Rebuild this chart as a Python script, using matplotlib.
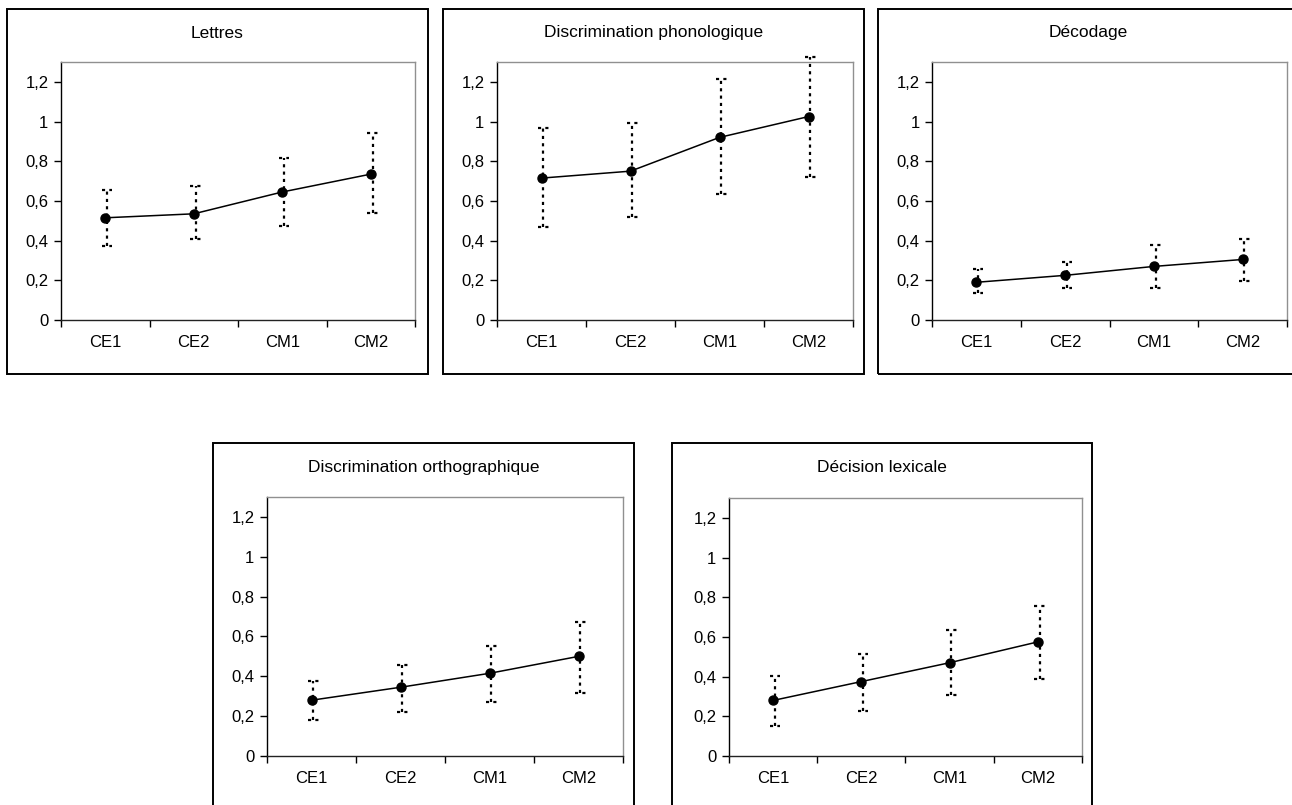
import numpy as np
import matplotlib
matplotlib.use('Agg')
import matplotlib.pyplot as plt
from matplotlib.patches import Rectangle

plt.rc('font', family=['Liberation Sans', 'DejaVu Sans'])

classes = ['CE1', 'CE2', 'CM1', 'CM2']
titres = ['Lettres', 'Discrimination phonologique', 'Décodage',
          'Discrimination orthographique', 'Décision lexicale']

# moyennes et bornes des barres d'erreur
moy_lettres = [0.515, 0.535, 0.645, 0.735]
haut_lettres = [0.654, 0.675, 0.816, 0.944]
bas_lettres = [0.371, 0.408, 0.476, 0.538]

moy_phono = [0.715, 0.75, 0.92, 1.025]
haut_phono = [0.965, 0.993, 1.212, 1.327]
bas_phono = [0.469, 0.521, 0.634, 0.72]

moy_decod = [0.19, 0.225, 0.27, 0.305]
haut_decod = [0.255, 0.294, 0.378, 0.407]
bas_decod = [0.138, 0.16, 0.16, 0.197]

moy_ortho = [0.28, 0.345, 0.415, 0.50]
haut_ortho = [0.374, 0.457, 0.553, 0.675]
bas_ortho = [0.181, 0.221, 0.271, 0.315]

moy_lex = [0.28, 0.375, 0.47, 0.575]
haut_lex = [0.404, 0.514, 0.633, 0.755]
bas_lex = [0.149, 0.229, 0.306, 0.387]

moyennes = [moy_lettres, moy_phono, moy_decod, moy_ortho, moy_lex]
hauts = [haut_lettres, haut_phono, haut_decod, haut_ortho, haut_lex]
bas = [bas_lettres, bas_phono, bas_decod, bas_ortho, bas_lex]

W, H = 1292, 805
fig = plt.figure(figsize=(W / 100, H / 100), dpi=100)

# cadres (px) : x0, y0, x1, y1 ; axes (px) : gauche, haut, droite, bas
cadres = [(7, 9, 428, 374), (443, 9, 864, 374), (878, 9, 1300, 374),
          (213, 443, 634, 812), (672, 443, 1092, 812)]
zones = [(61, 62, 415, 320), (497, 62, 853, 320), (932, 62, 1287, 320),
         (267, 497, 623, 756), (729, 498, 1082, 756)]

x = np.arange(len(classes))
for i in range(5):
    cx0, cy0, cx1, cy1 = cadres[i]
    fig.add_artist(Rectangle((cx0 / W, 1 - cy1 / H), (cx1 - cx0) / W, (cy1 - cy0) / H,
                             transform=fig.transFigure, fill=False,
                             edgecolor='black', lw=1.4, clip_on=False))
    l, t, r, b = zones[i]
    ax = fig.add_axes([l / W, 1 - b / H, (r - l) / W, (b - t) / H])
    fig.text((cx0 + cx1) / 2 / W if i != 2 else 1088 / W, 1 - (cy0 + 24) / H, titres[i],
             ha='center', va='center', fontsize=12.5)

    m = np.array(moyennes[i])
    hi = np.array(hauts[i])
    lo = np.array(bas[i])
    sty = dict(colors='black', linestyles=(0, (1.4, 1.9)), lw=1.6, clip_on=False)
    ax.vlines(x + 0.02, lo, hi, **sty)
    ax.hlines(hi, x - 0.04, x + 0.08, **sty)
    ax.hlines(lo, x - 0.04, x + 0.08, **sty)
    ax.plot(x, m, '-', color='black', lw=1.1, marker='o', ms=6.5, zorder=3)

    ax.set_xlim(-0.5, 3.5)
    ax.set_ylim(0, 1.3)
    ax.set_yticks([0, 0.2, 0.4, 0.6, 0.8, 1.0, 1.2])
    ax.set_yticklabels(['0', '0,2', '0,4', '0,6', '0,8', '1', '1,2'], fontsize=12)
    ax.set_xticks([-0.5, 0.5, 1.5, 2.5, 3.5])
    ax.set_xticklabels([])
    ax.set_xticks(x, minor=True)
    ax.set_xticklabels(classes, minor=True, fontsize=12)
    ax.tick_params(axis='x', which='major', direction='out', length=5, width=1)
    ax.tick_params(axis='x', which='minor', length=0, pad=11)
    ax.tick_params(axis='y', direction='out', length=5, width=1, pad=4)
    ax.spines['left'].set_color('black')
    ax.spines['bottom'].set_color('#222222')
    ax.spines['top'].set_color('#909090')
    ax.spines['right'].set_color('#909090')
    for s in ax.spines.values():
        s.set_linewidth(1)

plt.savefig('out.png', dpi=100)
plt.close()
